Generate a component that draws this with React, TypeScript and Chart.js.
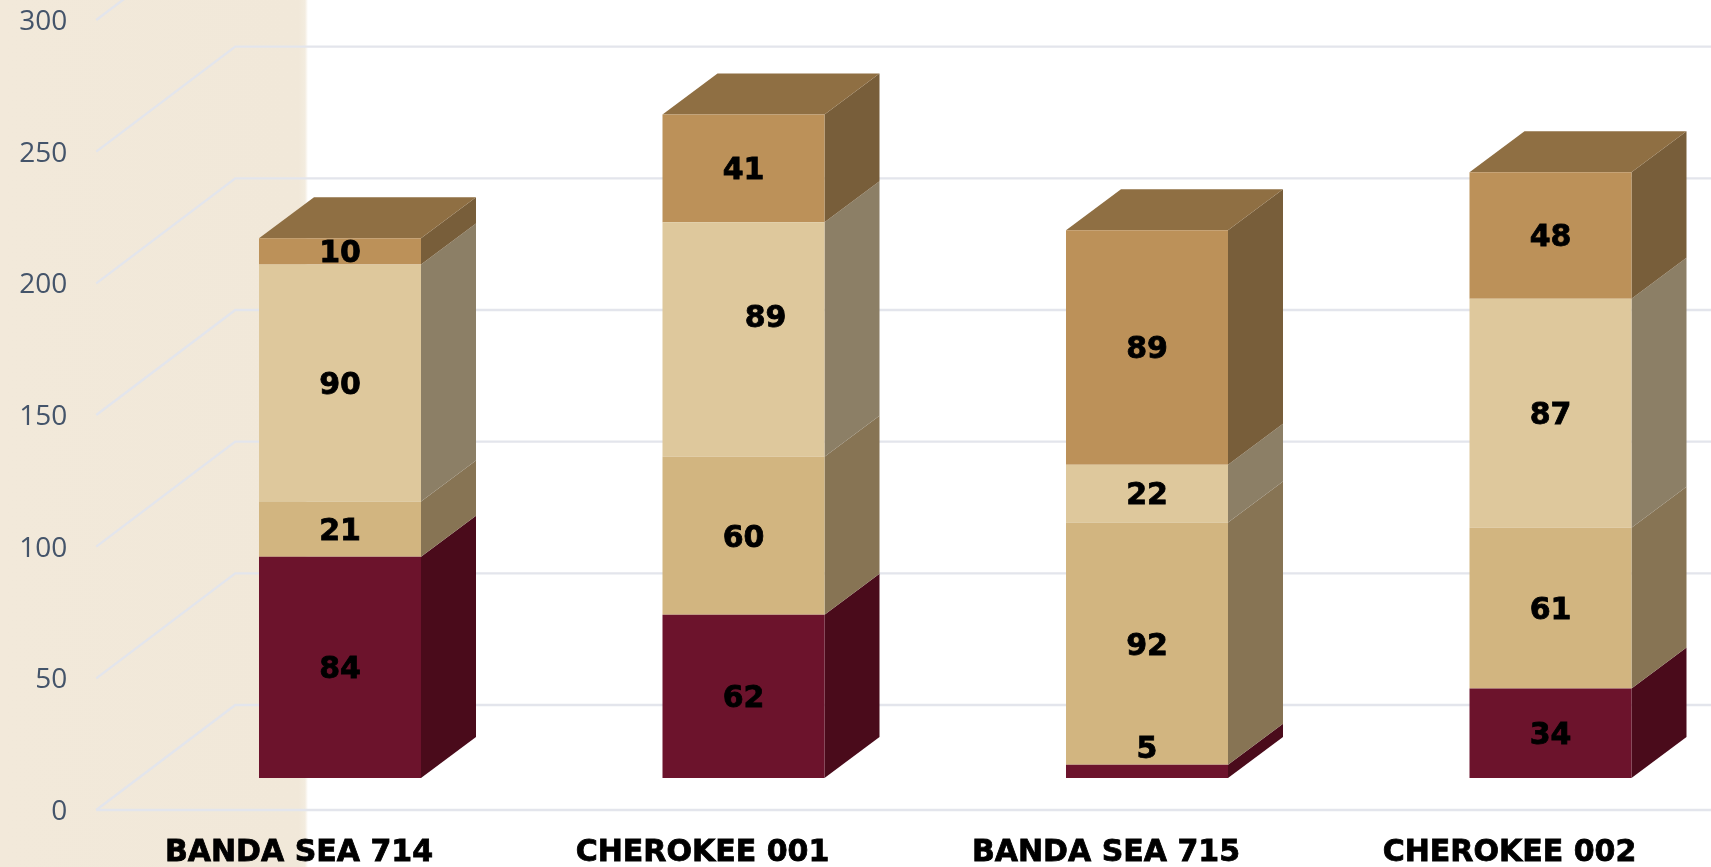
import React, { useEffect, useRef } from "react";
import { Chart, registerables } from "chart.js";

Chart.register(...registerables);

const categories = ["BANDA SEA 714", "CHEROKEE 001", "BANDA SEA 715", "CHEROKEE 002"];
const wine = [84, 62, 5, 34];
const tan = [21, 60, 92, 61];
const lightTan = [90, 89, 22, 87];
const brown = [10, 41, 89, 48];
const yTicks = [0, 50, 100, 150, 200, 250, 300];

const faces = [
  { front: "#6c132c", side: "#4a0b1b" },
  { front: "#d2b580", side: "#877454" },
  { front: "#dec89c", side: "#8c7f66" },
  { front: "#bc9159", side: "#785e3a" },
];
const topColor = "#8f6f43";
const BAR_DX = 55;
const BAR_DY = 41;
const WALL_DX = 139;
const WALL_DY = 105;
const WALL_INSET = 42;
const labelFont = "bold 30px 'DejaVu Sans'";
const labelShift: Record<string, [number, number]> = { "2:1": [22, -23], "0:2": [0, -24] };

const threeD = {
  id: "threeD",
  beforeDraw(chart: any) {
    const { ctx, height } = chart;
    ctx.save();
    const g = ctx.createLinearGradient(0, 0, 308, 0);
    g.addColorStop(0, "#f2e9da");
    g.addColorStop(0.97, "#f1e8d9");
    g.addColorStop(0.99, "#f3ecdf");
    g.addColorStop(1, "#ffffff");
    ctx.fillStyle = g;
    ctx.fillRect(0, 0, 308, height);
    ctx.restore();
  },
  beforeDatasetsDraw(chart: any) {
    const { ctx, chartArea, scales } = chart;
    const y = scales.y;
    const left = chartArea.left - WALL_INSET;
    ctx.save();
    ctx.strokeStyle = "#e3e5ec";
    ctx.lineWidth = 2.4;
    for (const t of y.ticks) {
      const py = y.getPixelForValue(t.value);
      ctx.beginPath();
      ctx.moveTo(left, py);
      ctx.lineTo(left + WALL_DX, py - WALL_DY);
      ctx.lineTo(chartArea.right, py - WALL_DY);
      ctx.stroke();
    }
    const floor = y.getPixelForValue(0);
    ctx.beginPath();
    ctx.moveTo(left, floor);
    ctx.lineTo(chartArea.right, floor);
    ctx.stroke();

    chart.data.datasets.forEach((_: any, di: number) => {
      chart.getDatasetMeta(di).data.forEach((el: any) => {
        const { x, y: top, base, width } = el.getProps(["x", "y", "base", "width"], true);
        const r = x + width / 2;
        ctx.fillStyle = faces[di].side;
        ctx.beginPath();
        ctx.moveTo(r, top);
        ctx.lineTo(r + BAR_DX, top - BAR_DY);
        ctx.lineTo(r + BAR_DX, base - BAR_DY);
        ctx.lineTo(r, base);
        ctx.closePath();
        ctx.fill();
        if (di === chart.data.datasets.length - 1) {
          const l = x - width / 2;
          ctx.fillStyle = topColor;
          ctx.beginPath();
          ctx.moveTo(l, top);
          ctx.lineTo(l + BAR_DX, top - BAR_DY);
          ctx.lineTo(r + BAR_DX, top - BAR_DY);
          ctx.lineTo(r, top);
          ctx.closePath();
          ctx.fill();
        }
      });
    });
    ctx.restore();
  },
  afterDatasetsDraw(chart: any) {
    const { ctx } = chart;
    ctx.save();
    ctx.fillStyle = "#000000";
    ctx.strokeStyle = "#000000";
    ctx.lineWidth = 0.8;
    ctx.font = labelFont;
    ctx.textAlign = "center";
    ctx.textBaseline = "middle";
    chart.data.datasets.forEach((ds: any, di: number) => {
      chart.getDatasetMeta(di).data.forEach((el: any, i: number) => {
        const { x, y: top, base } = el.getProps(["x", "y", "base"], true);
        const shift = labelShift[`${di}:${i}`] || [0, 0];
        const px = x + shift[0];
        const py = (top + base) / 2 + shift[1] + 3;
        ctx.fillText(String(ds.data[i]), px, py);
        ctx.strokeText(String(ds.data[i]), px, py);
      });
    });
    ctx.restore();
  },
};

const zeroPadding = (s: any) => {
  s.paddingTop = 0;
  s.paddingBottom = 0;
  s.paddingLeft = 0;
  s.paddingRight = 0;
};

export default function App() {
  const ref = useRef<HTMLCanvasElement>(null);
  useEffect(() => {
    const chart = new Chart(ref.current!, {
      type: "bar",
      data: {
        labels: categories,
        datasets: [wine, tan, lightTan, brown].map((data, i) => ({
          data,
          backgroundColor: faces[i].front,
          borderWidth: 0,
          yAxisID: "yBars",
          barPercentage: 0.4015,
          categoryPercentage: 1,
        })),
      },
      options: {
        responsive: false,
        animation: false,
        layout: { autoPadding: false, padding: { top: 20, right: 47.75, left: 0, bottom: 0 } },
        plugins: { legend: { display: false }, tooltip: { enabled: false } },
        scales: {
          x: {
            stacked: true,
            grid: { display: false, drawTicks: false },
            border: { display: false },
            afterFit: (s: any) => { s.height = 57; zeroPadding(s); },
            ticks: {
              color: "#000000",
              font: { family: "DejaVu Sans", weight: "bold", size: 30 },
              textStrokeColor: "#000000",
              textStrokeWidth: 0.8,
              labelOffset: -41,
              padding: 25,
              maxRotation: 0,
              autoSkip: false,
            },
          },
          y: {
            min: 0,
            max: 300,
            afterBuildTicks: (s: any) => { s.ticks = yTicks.map((value) => ({ value })); },
            afterFit: (s: any) => { s.width = 138.25; zeroPadding(s); },
            grid: { display: false, drawTicks: false },
            border: { display: false },
            ticks: {
              color: "#44546a",
              font: { family: "Open Sans", size: 28 },
              padding: 71,
              labelOffset: 2,
            },
          },
          yBars: {
            display: false,
            stacked: true,
            min: -12.15,
            max: 287.85,
          },
        },
      },
      plugins: [threeD],
    } as any);
    return () => chart.destroy();
  }, []);
  return (
    <div style={{ position: "fixed", inset: 0, overflow: "hidden", background: "#ffffff" }}>
      <canvas ref={ref} width={1800} height={867} style={{ display: "block" }} />
    </div>
  );
}
